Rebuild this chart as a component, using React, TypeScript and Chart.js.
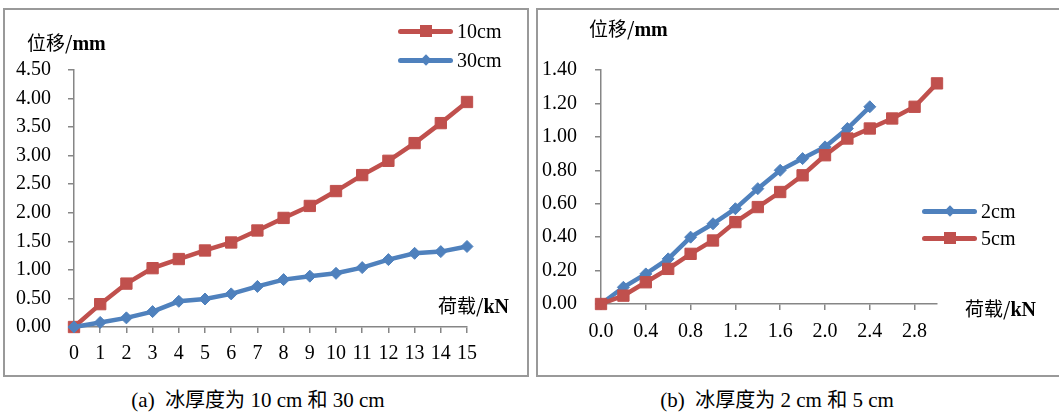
import React, { useEffect, useRef } from "react";
import { Chart, registerables } from "chart.js";

Chart.register(...registerables);

// ---------- Data: panel (a) ----------
const LOAD_A = [0, 1, 2, 3, 4, 5, 6, 7, 8, 9, 10, 11, 12, 13, 14, 15];
const DISP_10CM = [0, 0.4, 0.76, 1.03, 1.19, 1.34, 1.48, 1.69, 1.91, 2.12, 2.38, 2.66, 2.91, 3.22, 3.57, 3.94];
const DISP_30CM = [0, 0.08, 0.16, 0.27, 0.45, 0.49, 0.58, 0.71, 0.83, 0.89, 0.94, 1.04, 1.18, 1.29, 1.32, 1.41];
const X_TICKS_A = [0, 1, 2, 3, 4, 5, 6, 7, 8, 9, 10, 11, 12, 13, 14, 15];
const Y_TICKS_A = [0, 0.5, 1, 1.5, 2, 2.5, 3, 3.5, 4, 4.5];

// ---------- Data: panel (b) ----------
const LOAD_B_2CM = [0, 0.2, 0.4, 0.6, 0.8, 1.0, 1.2, 1.4, 1.6, 1.8, 2.0, 2.2, 2.4];
const DISP_2CM = [0, 0.1, 0.18, 0.27, 0.4, 0.48, 0.57, 0.69, 0.8, 0.87, 0.94, 1.05, 1.18];
const LOAD_B_5CM = [0, 0.2, 0.4, 0.6, 0.8, 1.0, 1.2, 1.4, 1.6, 1.8, 2.0, 2.2, 2.4, 2.6, 2.8, 3.0];
const DISP_5CM = [0, 0.05, 0.13, 0.21, 0.3, 0.38, 0.49, 0.58, 0.67, 0.77, 0.89, 0.99, 1.05, 1.11, 1.18, 1.32];
const X_TICKS_B = [0, 0.4, 0.8, 1.2, 1.6, 2.0, 2.4, 2.8];
const Y_TICKS_B = [0, 0.2, 0.4, 0.6, 0.8, 1.0, 1.2, 1.4];

const RED = "#C0504D";
const BLUE = "#4F81BD";
const AXIS = "#868686";
const SERIF = "'Liberation Serif', 'Times New Roman', serif";
const CJK = "'Noto Sans CJK SC', 'Noto Sans CJK JP', sans-serif";

const toPts = (xs: number[], ys: number[]) => xs.map((x, i) => ({ x, y: ys[i] }));

function lineSet(label: string, xs: number[], ys: number[], color: string, marker: "rect" | "rectRot", order: number) {
  return {
    label,
    data: toPts(xs, ys),
    borderColor: color,
    backgroundColor: color,
    borderWidth: 4.5,
    pointStyle: marker,
    pointRadius: marker === "rect" ? 8 : 6,
    pointBorderWidth: 1,
    pointBorderColor: color,
    pointBackgroundColor: color,
    tension: 0,
    clip: false as any,
    order,
  };
}

function makeConfig(opts: {
  datasets: any[];
  xMin: number;
  xMax: number;
  yMin: number;
  yMax: number;
  xTicks: number[];
  yTicks: number[];
  xFmt: (v: number) => string;
  yFmt: (v: number) => string;
  yWidth: number;
  xHeight: number;
  padRight: number;
  padTop: number;
  xPad: number;
  yPad: number;
}): any {
  const font = { family: SERIF, size: 20 };
  return {
    type: "line",
    data: { datasets: opts.datasets },
    options: {
      animation: false,
      responsive: false,
      events: [],
      layout: { padding: { left: 0, top: opts.padTop, right: opts.padRight, bottom: 0 } },
      plugins: { legend: { display: false }, tooltip: { enabled: false }, title: { display: false } },
      scales: {
        x: {
          type: "linear",
          min: opts.xMin,
          max: opts.xMax,
          afterBuildTicks: (s: any) => {
            s.ticks = opts.xTicks.map((v) => ({ value: v }));
          },
          afterFit: (s: any) => {
            s.height = opts.xHeight;
          },
          grid: { drawOnChartArea: false, drawTicks: true, tickLength: 6, color: AXIS, lineWidth: 1.5 },
          border: { color: AXIS, width: 1.5 },
          ticks: {
            font,
            color: "#000",
            padding: opts.xPad,
            maxRotation: 0,
            autoSkip: false,
            callback: (v: any) => opts.xFmt(Number(v)),
          },
        },
        y: {
          type: "linear",
          min: opts.yMin,
          max: opts.yMax,
          afterBuildTicks: (s: any) => {
            s.ticks = opts.yTicks.map((v) => ({ value: v }));
          },
          afterFit: (s: any) => {
            s.width = opts.yWidth;
          },
          grid: { drawOnChartArea: false, drawTicks: true, tickLength: 6, color: AXIS, lineWidth: 1.5 },
          border: { color: AXIS, width: 1.5 },
          ticks: {
            font,
            color: "#000",
            padding: opts.yPad,
            autoSkip: false,
            callback: (v: any) => opts.yFmt(Number(v)),
          },
        },
      },
    },
  };
}

function ChartCanvas(props: { left: number; top: number; width: number; height: number; config: () => any }) {
  const ref = useRef<HTMLCanvasElement | null>(null);
  useEffect(() => {
    if (!ref.current) return;
    const chart = new Chart(ref.current, props.config());
    return () => chart.destroy();
  }, []);
  return (
    <canvas
      ref={ref}
      width={props.width}
      height={props.height}
      style={{ position: "absolute", left: props.left, top: props.top, width: props.width, height: props.height }}
    />
  );
}

function LegendItem(props: { x: number; y: number; color: string; marker: "square" | "diamond"; label: string }) {
  const { x, y, color, marker, label } = props;
  return (
    <div style={{ position: "absolute", left: x, top: y - 12, height: 24, display: "flex", alignItems: "center" }}>
      <div style={{ position: "relative", width: 55, height: 24 }}>
        <div style={{ position: "absolute", left: 0, right: 0, top: 9.5, height: 5, borderRadius: 3, background: color }} />
        {marker === "square" ? (
          <div style={{ position: "absolute", left: 21.5, top: 6, width: 12, height: 12, background: color }} />
        ) : (
          <div
            style={{
              position: "absolute",
              left: 23.5,
              top: 8,
              width: 8,
              height: 8,
              background: color,
              transform: "rotate(45deg)",
            }}
          />
        )}
      </div>
      <span style={{ marginLeft: 4, fontFamily: SERIF, fontSize: 20, lineHeight: "24px", color: "#000" }}>{label}</span>
    </div>
  );
}

function AxisTitle(props: { x: number; y: number; cjk: string; unit: string }) {
  return (
    <div
      style={{
        position: "absolute",
        left: props.x,
        top: props.y - 12,
        height: 24,
        lineHeight: "24px",
        whiteSpace: "nowrap",
        color: "#000",
      }}
    >
      <span style={{ fontFamily: CJK, fontSize: 19 }}>{props.cjk}</span>
      <span style={{ fontFamily: SERIF, fontSize: 20, fontWeight: "bold" }}>{props.unit}</span>
    </div>
  );
}

function Caption(props: { cx: number; y: number; children: React.ReactNode }) {
  return (
    <div
      style={{
        position: "absolute",
        left: props.cx - 200,
        width: 400,
        top: props.y - 13,
        height: 26,
        lineHeight: "26px",
        textAlign: "center",
        whiteSpace: "nowrap",
        fontSize: 21,
        color: "#000",
        fontFamily: SERIF,
      }}
    >
      {props.children}
    </div>
  );
}

export default function App() {
  const configA = () =>
    makeConfig({
      datasets: [
        lineSet("10cm", LOAD_A, DISP_10CM, RED, "rect", 1),
        lineSet("30cm", LOAD_A, DISP_30CM, BLUE, "rectRot", 0),
      ],
      xMin: 0,
      xMax: 15,
      yMin: 0,
      yMax: 4.5,
      xTicks: X_TICKS_A,
      yTicks: Y_TICKS_A,
      xFmt: (v) => String(v),
      yFmt: (v) => v.toFixed(2),
      yWidth: 70,
      xHeight: 49,
      padRight: 60,
      padTop: 61,
      xPad: 9,
      yPad: 17,
    });

  const configB = () =>
    makeConfig({
      datasets: [
        lineSet("2cm", LOAD_B_2CM, DISP_2CM, BLUE, "rectRot", 1),
        lineSet("5cm", LOAD_B_5CM, DISP_5CM, RED, "rect", 0),
      ],
      xMin: 0,
      xMax: 3.0,
      yMin: 0,
      yMax: 1.4,
      xTicks: X_TICKS_B,
      yTicks: Y_TICKS_B,
      xFmt: (v) => v.toFixed(1),
      yFmt: (v) => v.toFixed(2),
      yWidth: 64,
      xHeight: 72,
      padRight: 122,
      padTop: 61,
      xPad: 10,
      yPad: 18,
    });

  const cjkSpan = (t: string) => <span style={{ fontFamily: CJK, fontSize: 20 }}>{t}</span>;

  return (
    <div
      style={{
        position: "absolute",
        left: 0,
        top: 0,
        width: 1059,
        height: 412,
        overflow: "hidden",
        background: "#fff",
      }}
    >
      {/* frames */}
      <div
        style={{
          position: "absolute",
          left: 3,
          top: 8,
          width: 526,
          height: 369,
          border: "2px solid #999",
          boxSizing: "border-box",
        }}
      />
      <div
        style={{
          position: "absolute",
          left: 536,
          top: 8,
          width: 600,
          height: 369,
          border: "2px solid #999",
          boxSizing: "border-box",
        }}
      />

      <ChartCanvas left={4} top={9} width={523} height={367} config={configA} />
      <ChartCanvas left={537} top={9} width={522} height={367} config={configB} />

      <AxisTitle x={27} y={42} cjk="位移/" unit="mm" />
      <AxisTitle x={438} y={305} cjk="荷载/" unit="kN" />
      <AxisTitle x={589} y={28} cjk="位移/" unit="mm" />
      <AxisTitle x={965} y={308} cjk="荷载/" unit="kN" />

      <LegendItem x={398} y={31} color={RED} marker="square" label="10cm" />
      <LegendItem x={398} y={60} color={BLUE} marker="diamond" label="30cm" />
      <LegendItem x={922} y={211} color={BLUE} marker="diamond" label="2cm" />
      <LegendItem x={922} y={238} color={RED} marker="square" label="5cm" />

      <Caption cx={258} y={399}>
        (a)&nbsp; {cjkSpan("冰厚度为")} 10 cm {cjkSpan("和")} 30 cm
      </Caption>
      <Caption cx={777} y={399}>
        (b)&nbsp; {cjkSpan("冰厚度为")} 2 cm {cjkSpan("和")} 5 cm
      </Caption>
    </div>
  );
}
